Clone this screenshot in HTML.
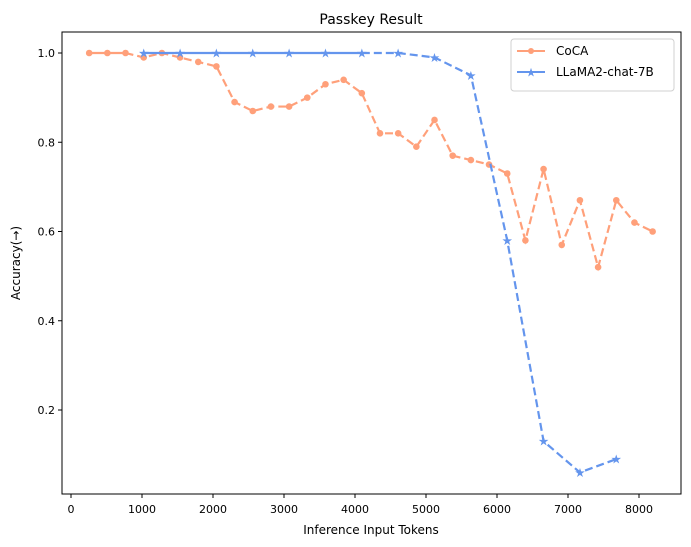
<!DOCTYPE html>
<html><head><meta charset="utf-8"><style>
html,body{margin:0;padding:0;background:#fff;}
svg{display:block;font-family:"DejaVu Sans","Liberation Sans",sans-serif;}
</style></head><body>
<svg id="chart" width="691" height="547" viewBox="0 0 691 547" xmlns="http://www.w3.org/2000/svg">
<rect x="0" y="0" width="691" height="547" fill="#fff"/>
<text x="371" y="24" font-size="14" text-anchor="middle" fill="#000">Passkey Result</text>
<g id="grid"></g>
<g id="series"></g>
<rect x="62" y="32" width="619" height="462" fill="none" stroke="#000" stroke-width="1"/>
<text x="371" y="534" font-size="12" text-anchor="middle">Inference Input Tokens</text>
<text x="20" y="263" font-size="12" text-anchor="middle" transform="rotate(-90 20 263)">Accuracy(→)</text>
<g>
<rect x="511" y="39" width="163" height="52" rx="3" fill="#fff" stroke="#d0d0d0"/>
<line x1="517" y1="51" x2="545" y2="51" stroke="#FFA07A" stroke-width="2"/>
<circle cx="531" cy="51" r="3" fill="#FFA07A"/>
<text x="556" y="55" font-size="12">CoCA</text>
<line x1="517" y1="72" x2="545" y2="72" stroke="#6495ED" stroke-width="2"/>
<text x="531" y="76.5" font-size="12" fill="#6495ED" text-anchor="middle">★</text>
<text x="556" y="76" font-size="12">LLaMA2-chat-7B</text>
</g>
</svg>
<script>
const xTicks=[0,1000,2000,3000,4000,5000,6000,7000,8000];
const yTicks=[0.2,0.4,0.6,0.8,1.0];
const cocaX=[256,512,768,1024,1280,1536,1792,2048,2304,2560,2816,3072,3328,3584,3840,4096,4352,4608,4864,5120,5376,5632,5888,6144,6400,6656,6912,7168,7424,7680,7936,8192];
const cocaY=[1.0,1.0,1.0,0.99,1.0,0.99,0.98,0.97,0.89,0.87,0.88,0.88,0.90,0.93,0.94,0.91,0.82,0.82,0.79,0.85,0.77,0.76,0.75,0.73,0.58,0.74,0.57,0.67,0.52,0.67,0.62,0.60];
const llamaX=[1024,1536,2048,2560,3072,3584,4096,4608,5120,5632,6144,6656,7168,7680];
const llamaY=[1.0,1.0,1.0,1.0,1.0,1.0,1.0,1.0,0.99,0.95,0.58,0.13,0.06,0.09];
const NS="http://www.w3.org/2000/svg";
const sx=v=>71+v*(568/8000);
const sy=v=>53+(1-v)*446.25;
const grid=document.getElementById('grid'),ser=document.getElementById('series');
function mk(tag,attrs,parent){const e=document.createElementNS(NS,tag);for(const k in attrs)e.setAttribute(k,attrs[k]);parent.appendChild(e);return e;}
xTicks.forEach(t=>{
  const l=mk('line',{x1:sx(t),x2:sx(t),y1:494,y2:498,stroke:'#000'},grid);
  
  
  const tx=mk('text',{x:sx(t),y:513,'font-size':11,'text-anchor':'middle'},grid);tx.textContent=t;
  
  
});
yTicks.forEach(t=>{
  const l=mk('line',{x1:58,x2:62,y1:sy(t),y2:sy(t),stroke:'#000'},grid);
  
  
  const tx=mk('text',{x:55,y:sy(t)+4,'font-size':11,'text-anchor':'end'},grid);tx.textContent=t.toFixed(1);
  
  
});
function drawSeries(xs,ys,color,solidUntil,marker,name){
  const g=mk('g',{},ser);
  
  
  const pts=xs.map((x,i)=>[sx(x),sy(ys[i])]);
  const k=xs.filter(x=>x<=solidUntil).length;
  const solid=pts.slice(0,k),dash=pts.slice(Math.max(k-1,0));
  if(solid.length>1)mk('polyline',{points:solid.map(p=>p.join(',')).join(' '),fill:'none',stroke:color,'stroke-width':2.2},g);
  if(dash.length>1)mk('polyline',{points:dash.map(p=>p.join(',')).join(' '),fill:'none',stroke:color,'stroke-width':2.2,'stroke-dasharray':'8,4'},g);
  pts.forEach(p=>{
    let m;
    if(marker==='o'){m=mk('circle',{cx:p[0],cy:p[1],r:3.3,fill:color},g);}
    else{m=mk('text',{x:p[0],y:p[1]+4.5,'font-size':12.5,'text-anchor':'middle',fill:color},g);m.textContent='★';}
    
    
  });
}
drawSeries(cocaX,cocaY,'#FFA07A',768,'o','coca-series');
drawSeries(llamaX,llamaY,'#6495ED',4096,'*','llama-series');
</script>
</body></html>
